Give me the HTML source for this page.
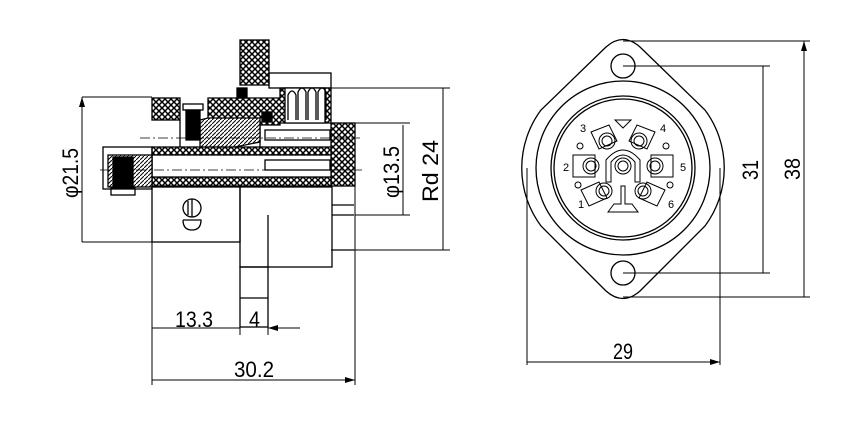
<!DOCTYPE html>
<html><head><style>body{margin:0;background:#fff}svg{display:block}text{font-family:"Liberation Sans",sans-serif;fill:#000}</style></head><body>
<svg width="864" height="432" viewBox="0 0 864 432" xmlns="http://www.w3.org/2000/svg">
<defs>
<pattern id="x" width="6" height="6" patternUnits="userSpaceOnUse"><rect width="6" height="6" fill="#fff"/><path d="M0 0L6 6M6 0L0 6" stroke="#000" stroke-width="1.5"/></pattern>
<pattern id="d" width="4" height="4" patternUnits="userSpaceOnUse"><rect width="4" height="4" fill="#fff"/><path d="M0 4L4 0" stroke="#000" stroke-width="1"/></pattern>
<marker id="a" markerWidth="10" markerHeight="6" refX="10" refY="3" orient="auto-start-reverse" markerUnits="userSpaceOnUse"><path d="M0 0L10 3L0 6z"/></marker>
</defs>
<g fill="none" stroke="#000" stroke-width="1.3">
<rect x="240" y="40" width="29" height="45" fill="url(#x)"/>
<rect x="269" y="73" width="62" height="15"/>
<rect x="152" y="98" width="28" height="22" fill="url(#x)"/>
<path d="M208 98H280V88H331V123H280V125H208Z" fill="url(#x)"/>
<path d="M285 88h40v35h-40z" fill="#fff"/>
<path d="M288 120V95q4-8 8 0V120M298 120V92q4-8 8 0V120M308 120V92q4-8 8 0V120M318 120V92q4-8 8 0V120"/>
<path d="M180 120V148H260V123"/>
<path d="M208 118H260V142L230 148H200V120Z" fill="url(#d)"/>
<rect x="186" y="110" width="14" height="30" fill="#000"/>
<rect x="183" y="104" width="20" height="6"/>
<rect x="262" y="112" width="10" height="10" fill="#000"/>
<rect x="237" y="88" width="10" height="10" fill="#000"/>
<rect x="331" y="123" width="24" height="63" fill="url(#x)"/>
<rect x="152" y="147" width="179" height="8" fill="url(#x)"/>
<rect x="152" y="177" width="179" height="9" fill="url(#x)"/>
<rect x="152" y="155" width="179" height="22" fill="#fff"/>
<rect x="265" y="130" width="65" height="10"/><rect x="265" y="160" width="65" height="10"/>
<rect x="103" y="147" width="49" height="42"/>
<rect x="108" y="155" width="44" height="32" fill="url(#d)"/>
<rect x="113" y="157" width="20" height="31" fill="#000"/>
<rect x="111" y="188" width="24" height="7"/>
<rect x="152" y="187" width="88" height="55"/>
<rect x="240" y="187" width="92" height="80"/>
<path d="M268 215V267"/>
<rect x="240" y="267" width="28" height="60"/>
<path d="M240 298H268"/>
<path d="M332 205h22M332 215h22M332 250h22"/>
<circle cx="192" cy="208" r="9"/><path d="M192 199V217M188 201V215"/>
<path d="M183 220h18q0 10-9 10q-9 0-9-10"/>
<g stroke-width="0.8" stroke-dasharray="10 3 2 3"><path d="M140 138H360M100 170H365"/></g>
<g stroke-width="1"><path d="M82 97H152M82 242H152M331 88H450M331 250H450M355 123H410M355 215H410M152 242V385M355 186V385M240 327V335M268 327V335"/>
<path d="M82 97V242M443 88V250M403 125V215M152 328H240M152 380H355" marker-start="url(#a)" marker-end="url(#a)"/>
<path d="M300 328H268" marker-end="url(#a)"/></g>
<path d="M606 47Q623 32 640 47L705 110A97 97 0 0 1 705 226L640 291Q623 306 606 291L541 226A97 97 0 0 1 541 110Z"/>
<circle cx="623" cy="168" r="87"/>
<circle cx="623" cy="168" r="72"/><circle cx="623" cy="168" r="69"/>
<circle cx="623" cy="66" r="12"/><circle cx="623" cy="273" r="12"/>
<g stroke-width="1">
<path d="M615 120h16l-8 8z"/>
<path d="M591 132l18-7l8 16l-18 8z M655 132l-18-7l-8 16l18 8z M573 155h22v22h-22z M673 155h-22v22h22z M581 190l18-8l8 16l-18 8z M665 190l-18-8l-8 16l18 8z"/>
<path d="M606 182V160q17-20 34 0V182h-5V162q-12-14-24 0V182z"/>
<path d="M608 212l6-8h7V186h4V204h7l6 8z"/>
<circle cx="607" cy="141" r="8"/><circle cx="607" cy="141" r="5"/>
<circle cx="639" cy="141" r="8"/><circle cx="639" cy="141" r="5"/>
<circle cx="591" cy="166" r="8"/><circle cx="591" cy="166" r="5"/>
<circle cx="655" cy="166" r="8"/><circle cx="655" cy="166" r="5"/>
<circle cx="623" cy="166" r="8"/><circle cx="623" cy="166" r="5"/>
<circle cx="604" cy="191" r="8"/><circle cx="604" cy="191" r="5"/>
<circle cx="643" cy="191" r="8"/><circle cx="643" cy="191" r="5"/>
<circle cx="580" cy="146" r="3"/><circle cx="666" cy="146" r="3"/><circle cx="578" cy="185" r="3"/><circle cx="670" cy="185" r="3"/>
<path d="M623 41H810M623 66H770M623 273H770M623 297H810M527 168V365M720 168V365"/>
<path d="M804 41V297M763 66V273M527 362H720" marker-start="url(#a)" marker-end="url(#a)"/>
</g></g>
<g font-size="22">
<text x="175" y="327" textLength="38" lengthAdjust="spacingAndGlyphs">13.3</text>
<text x="249" y="327" textLength="11" lengthAdjust="spacingAndGlyphs">4</text>
<text x="234" y="377" textLength="40" lengthAdjust="spacingAndGlyphs">30.2</text>
<text x="613" y="359" textLength="20" lengthAdjust="spacingAndGlyphs">29</text>
<text transform="translate(78 198) rotate(-90)" textLength="50" lengthAdjust="spacingAndGlyphs">φ21.5</text>
<text transform="translate(399 198) rotate(-90)" textLength="52" lengthAdjust="spacingAndGlyphs">φ13.5</text>
<text transform="translate(438 202) rotate(-90)" textLength="62" lengthAdjust="spacingAndGlyphs">Rd 24</text>
<text transform="translate(758 180) rotate(-90)" textLength="20" lengthAdjust="spacingAndGlyphs">31</text>
<text transform="translate(800 180) rotate(-90)" textLength="22" lengthAdjust="spacingAndGlyphs">38</text>
</g>
<g font-size="11" font-family="Liberation Serif"><text x="580" y="132">3</text><text x="660" y="132">4</text><text x="563" y="171">2</text><text x="680" y="171">5</text><text x="578" y="208">1</text><text x="668" y="208">6</text></g>
</svg>
</body></html>
